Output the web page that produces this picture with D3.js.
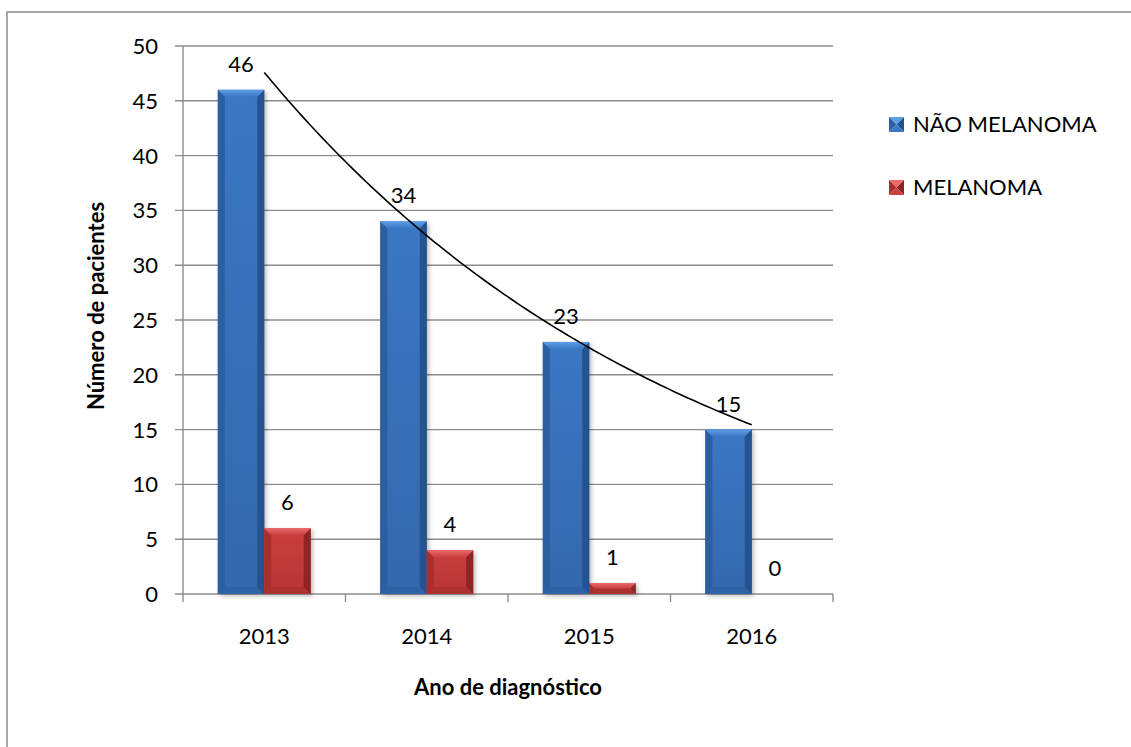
<!DOCTYPE html>
<html>
<head>
<meta charset="utf-8">
<script src="https://cdn.jsdelivr.net/npm/d3@7/dist/d3.min.js"></script>
<style>
  html, body { margin: 0; padding: 0; background: #fff; }
  svg { display: block; }
  text { font-family: Lato, "Open Sans", sans-serif; fill: #000; }
</style>
</head>
<body>
<svg id="chart" width="1131" height="747"></svg>
<script>
// ---- data ----
const categories = ["2013", "2014", "2015", "2016"];
const seriesNames = ["NÃO MELANOMA", "MELANOMA"];
const naoMelanoma = [46, 34, 23, 15];
const melanoma = [6, 4, 1, 0];
const yTicks = [0, 5, 10, 15, 20, 25, 30, 35, 40, 45, 50];
const xTitle = "Ano de diagnóstico";
const yTitle = "Número de pacientes";

const seriesValues = [naoMelanoma, melanoma];

const svg = d3.select("#chart");
const W = 1131, H = 747;
const plot = { left: 183, right: 833, top: 46, bottom: 594 };

// ---- colours ----
const pal = [
  { mid: "#3b77c4", dark: "#24538f", edge: "#2c5f9f", light: "#5e9ee6", bot: "#3468ad" },
  { mid: "#ca3e3e", dark: "#8e2424", edge: "#a82f2f", light: "#ea6a6a", bot: "#b73636" }
];

const defs = svg.append("defs");
pal.forEach((p, i) => {
  const g = defs.append("linearGradient").attr("id", "body" + i)
    .attr("x1", 0).attr("y1", 0).attr("x2", 0).attr("y2", 1);
  g.append("stop").attr("offset", 0).attr("stop-color", p.mid);
  g.append("stop").attr("offset", 1).attr("stop-color", p.bot);
  const t = defs.append("linearGradient").attr("id", "top" + i)
    .attr("x1", 0).attr("y1", 0).attr("x2", 0).attr("y2", 1);
  t.append("stop").attr("offset", 0).attr("stop-color", p.light);
  t.append("stop").attr("offset", 1).attr("stop-color", p.mid);
});
const f = defs.append("filter").attr("id", "shadow").attr("x", "-20%").attr("y", "-20%")
  .attr("width", "140%").attr("height", "140%");
f.append("feGaussianBlur").attr("stdDeviation", 2);

// ---- chart border ----
svg.append("path").attr("d", `M7,${H} L7,12 L${W},12`)
  .attr("fill", "none").attr("stroke", "#8a8a8a").attr("stroke-width", 1.5);

// ---- scales ----
const x = d3.scaleBand().domain(categories).range([plot.left, plot.right]).padding(0);
const bw = x.bandwidth();
const gapRatio = 1.5;
const barW = bw / (seriesNames.length + gapRatio);
const xs = d3.scaleBand().domain(seriesNames)
  .range([barW * gapRatio / 2, bw - barW * gapRatio / 2]).padding(0);
const y = d3.scaleLinear().domain([0, 50]).range([plot.bottom, plot.top]);

// ---- gridlines ----
svg.append("g").selectAll("line").data(yTicks).join("line")
  .attr("x1", plot.left - 8).attr("x2", plot.right)
  .attr("y1", d => y(d)).attr("y2", d => y(d))
  .attr("stroke", "#8c8c8c").attr("stroke-width", 1.4);

// y axis line
svg.append("line").attr("x1", plot.left).attr("x2", plot.left)
  .attr("y1", y(50)).attr("y2", y(0))
  .attr("stroke", "#8c8c8c").attr("stroke-width", 1.4);

// x axis ticks at category boundaries
const bounds = categories.map(c => x(c)).concat([plot.right]);
svg.append("g").selectAll("line").data(bounds).join("line")
  .attr("x1", d => d).attr("x2", d => d)
  .attr("y1", y(0)).attr("y2", y(0) + 8)
  .attr("stroke", "#8c8c8c").attr("stroke-width", 1.4);

// y tick labels
svg.append("g").selectAll("text").data(yTicks).join("text")
  .attr("x", 158).attr("y", d => y(d)).attr("dy", "0.36em")
  .attr("text-anchor", "end").attr("font-size", 22).text(d => d);

// x tick labels
svg.append("g").selectAll("text").data(categories).join("text")
  .attr("x", d => x(d) + bw / 2).attr("y", 644)
  .attr("text-anchor", "middle").attr("font-size", 22).text(d => d);

// ---- bars ----
const barData = [];
seriesNames.forEach((s, si) => {
  categories.forEach((c, ci) => {
    barData.push({ s, si, c, v: seriesValues[si][ci] });
  });
});

const bars = svg.append("g").selectAll("g").data(barData).join("g");
bars.each(function (d) {
  const g = d3.select(this);
  const x0 = x(d.c) + xs(d.s);
  const w = xs.bandwidth();
  const y0 = y(d.v), y1 = y(0);
  const h = y1 - y0;
  if (h <= 0) return;
  const p = pal[d.si];
  const b = Math.min(7, h / 2);
  // shadow
  g.append("rect").attr("x", x0 + 2).attr("y", y0 + 2).attr("width", w).attr("height", h)
    .attr("fill", "rgba(0,0,0,0.28)").attr("filter", "url(#shadow)");
  // body
  g.append("rect").attr("x", x0).attr("y", y0).attr("width", w).attr("height", h)
    .attr("fill", `url(#body${d.si})`);
  // left bevel
  g.append("path").attr("d", `M${x0},${y0} L${x0 + b},${y0 + b} L${x0 + b},${y1 - b} L${x0},${y1} Z`)
    .attr("fill", p.edge);
  // right bevel
  g.append("path").attr("d", `M${x0 + w},${y0} L${x0 + w - b},${y0 + b} L${x0 + w - b},${y1 - b} L${x0 + w},${y1} Z`)
    .attr("fill", p.dark);
  // bottom bevel
  g.append("path").attr("d", `M${x0},${y1} L${x0 + b},${y1 - b} L${x0 + w - b},${y1 - b} L${x0 + w},${y1} Z`)
    .attr("fill", p.edge).attr("opacity", 0.7);
  // top bevel
  g.append("path").attr("d", `M${x0},${y0} L${x0 + w},${y0} L${x0 + w - b},${y0 + b} L${x0 + b},${y0 + b} Z`)
    .attr("fill", `url(#top${d.si})`);
});

// data labels
svg.append("g").selectAll("text").data(barData).join("text")
  .attr("x", d => x(d.c) + xs(d.s) + xs.bandwidth() / 2)
  .attr("y", d => y(d.v) - 18)
  .attr("text-anchor", "middle").attr("font-size", 22).text(d => d.v);

// ---- exponential trendline for NÃO MELANOMA (least squares on ln y) ----
const n = naoMelanoma.length;
const xsIdx = d3.range(1, n + 1);
const lnY = naoMelanoma.map(v => Math.log(v));
const mx = d3.mean(xsIdx), my = d3.mean(lnY);
const slope = d3.sum(xsIdx.map((xi, i) => (xi - mx) * (lnY[i] - my))) /
  d3.sum(xsIdx.map(xi => (xi - mx) ** 2));
const intercept = my - slope * mx;
const tx = d3.scaleLinear().domain([1, n])
  .range([x(categories[0]) + bw / 2, x(categories[n - 1]) + bw / 2]);
const trendPts = d3.range(0, 101).map(k => {
  const t = 1 + (n - 1) * k / 100;
  return [tx(t), y(Math.exp(intercept + slope * t))];
});
svg.append("path").attr("d", d3.line().curve(d3.curveLinear)(trendPts))
  .attr("fill", "none").attr("stroke", "#000").attr("stroke-width", 1.6);

// ---- axis titles ----
svg.append("text").attr("x", (plot.left + plot.right) / 2).attr("y", 695)
  .attr("text-anchor", "middle").attr("font-size", 22).attr("font-weight", "bold")
  .text(xTitle);
svg.append("text").attr("transform", "translate(104,306) rotate(-90)")
  .attr("text-anchor", "middle").attr("font-size", 22).attr("font-weight", "bold")
  .text(yTitle);

// ---- legend ----
const legY = [117, 180];
const leg = svg.append("g").selectAll("g").data(seriesNames).join("g")
  .attr("transform", (d, i) => `translate(889,${legY[i]})`);
leg.each(function (d, i) {
  const g = d3.select(this);
  const p = pal[i], s = 15, c = s / 2;
  g.append("path").attr("d", `M0,0 L${s},0 L${c},${c} Z`).attr("fill", p.light);
  g.append("path").attr("d", `M0,0 L${c},${c} L0,${s} Z`).attr("fill", p.edge);
  g.append("path").attr("d", `M${s},0 L${s},${s} L${c},${c} Z`).attr("fill", p.dark);
  g.append("path").attr("d", `M0,${s} L${c},${c} L${s},${s} Z`).attr("fill", p.mid);
});
leg.append("text").attr("x", 24).attr("y", 15).attr("font-size", 22).text(d => d);
</script>
</body>
</html>
